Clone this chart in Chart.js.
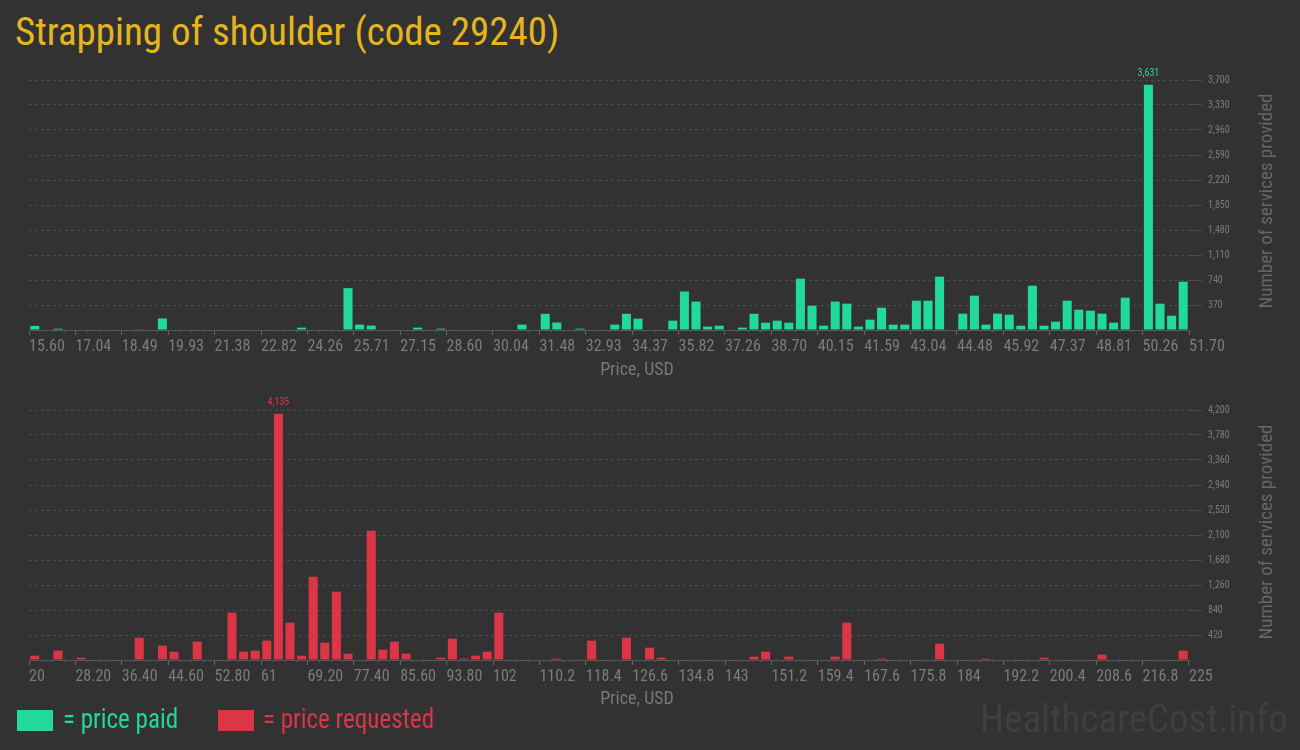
<!DOCTYPE html>
<html>
<head>
<meta charset="utf-8">
<script src="https://cdn.jsdelivr.net/npm/chart.js@4/dist/chart.umd.min.js"></script>
<style>
  html, body { margin: 0; padding: 0; }
  body {
    width: 1300px; height: 750px; overflow: hidden; position: relative;
    background: #323232;
    font-family: 'Roboto Condensed', 'Liberation Sans Narrow', 'DejaVu Sans Condensed', Roboto, sans-serif;
  }
  .txt { position: absolute; white-space: nowrap; line-height: 1; }
  #title { left: 15px; top: 13px; font-size: 39px; color: #e6b51e; }
  .ytitle { font-size: 19px; color: #676767; transform: translate(-50%, -50%) rotate(-90deg); }
  .xtitle { font-size: 18px; color: #787878; transform: translate(-50%, -50%); }
  .box { position: absolute; width: 36px; height: 21px; }
  .legend { font-size: 28px; top: 705px; transform: scaleX(0.895); transform-origin: left center; }
  #mark { right: 12px; top: 700px; font-size: 39px; color: #3f3f3f; }
  canvas { position: absolute; left: 0; }
</style>
</head>
<body>
<div id="title" class="txt">Strapping of shoulder (code 29240)</div>

<canvas id="paidChart" width="1300" height="330" style="top:55px"></canvas>
<canvas id="requestedChart" width="1300" height="330" style="top:385px"></canvas>

<div class="txt ytitle" style="left:1265px; top:201px">Number of services provided</div>
<div class="txt ytitle" style="left:1265px; top:532px">Number of services provided</div>
<div class="txt xtitle" style="left:637px; top:369px">Price, USD</div>
<div class="txt xtitle" style="left:637px; top:698px">Price, USD</div>

<div class="box" style="left:17px; top:710px; background:#21d99b"></div>
<div class="txt legend" style="left:63px; color:#21d99b">= price paid</div>
<div class="box" style="left:218px; top:710px; background:#dc3545"></div>
<div class="txt legend" style="left:263px; color:#dc3545">= price requested</div>
<div id="mark" class="txt">HealthcareCost.info</div>

<script>
// price bins: 100 bins per chart, tick labels every 4 bins
const paidTicks = ['15.60', '17.04', '18.49', '19.93', '21.38', '22.82', '24.26', '25.71', '27.15',
    '28.60', '30.04', '31.48', '32.93', '34.37', '35.82', '37.26', '38.70', '40.15', '41.59',
    '43.04', '44.48', '45.92', '47.37', '48.81', '50.26', '51.70'];
const requestedTicks = ['20', '28.20', '36.40', '44.60', '52.80', '61', '69.20', '77.40', '85.60',
    '93.80', '102', '110.2', '118.4', '126.6', '134.8', '143', '151.2', '159.4', '167.6',
    '175.8', '184', '192.2', '200.4', '208.6', '216.8', '225'];

// number of services provided in each bin
const paidCounts = [
    60, 0, 20, 0, 0, 0, 0, 0, 0, 10,
    0, 170, 0, 0, 0, 0, 0, 0, 0, 0,
    0, 0, 0, 35, 0, 0, 0, 620, 80, 65,
    0, 0, 0, 35, 0, 20, 0, 0, 0, 0,
    0, 0, 80, 0, 240, 110, 0, 20, 0, 0,
    80, 240, 168, 0, 0, 138, 570, 420, 50, 64,
    0, 35, 240, 108, 138, 108, 760, 360, 64, 420,
    390, 50, 153, 330, 79, 79, 434, 434, 790, 0,
    242, 508, 79, 242, 227, 64, 656, 64, 123, 434,
    301, 286, 242, 108, 479, 0, 3631, 390, 212, 715
];
const requestedCounts = [
    73, 0, 157, 0, 39, 0, 0, 0, 0, 375,
    0, 241, 140, 0, 308, 0, 0, 795, 140, 157,
    325, 4135, 627, 73, 1400, 291, 1148, 106, 0, 2173,
    174, 308, 106, 0, 0, 39, 358, 22, 73, 140,
    795, 10, 0, 0, 0, 22, 0, 10, 325, 0,
    0, 375, 0, 207, 39, 0, 0, 0, 0, 0,
    0, 0, 56, 140, 10, 56, 0, 0, 0, 56,
    627, 0, 0, 22, 0, 0, 0, 0, 274, 0,
    0, 0, 22, 0, 0, 0, 0, 39, 0, 0,
    0, 0, 90, 0, 0, 0, 0, 0, 0, 157
];

const yMaxPaid = 3700, yStepPaid = 370;
const yMaxRequested = 4200, yStepRequested = 420;

const narrow = "'Roboto Condensed', 'Liberation Sans Narrow', 'DejaVu Sans Condensed', Roboto, sans-serif";

// label over the tallest bar
const peakLabel = {
    id: 'peakLabel',
    afterDatasetsDraw(chart) {
        const ds = chart.data.datasets[0];
        const meta = chart.getDatasetMeta(0);
        let best = 0;
        ds.data.forEach((d, i) => { if (d.y > ds.data[best].y) best = i; });
        const bar = meta.data[best];
        const c = chart.ctx;
        c.save();
        c.font = '10px ' + narrow;
        c.fillStyle = ds.backgroundColor;
        c.textAlign = 'center';
        c.textBaseline = 'bottom';
        c.fillText(ds.data[best].y.toLocaleString('en-US'), bar.x, bar.y - 6);
        c.restore();
    }
};

// short minor ticks at every bin edge
const minorTicks = {
    id: 'minorTicks',
    afterDraw(chart) {
        const x = chart.scales.x;
        const c = chart.ctx;
        c.save();
        c.strokeStyle = '#5a5a5a';
        c.lineWidth = 1;
        x.ticks.forEach((t, i) => {
            if (i % 4 === 0) return;
            const px = Math.round(x.getPixelForValue(t.value)) + 0.5;
            c.beginPath();
            c.moveTo(px, x.top);
            c.lineTo(px, x.top + 2);
            c.stroke();
        });
        c.restore();
    }
};

function makeChart(id, tickLabels, counts, color, yMax, yStep) {
    const lo = parseFloat(tickLabels[0]);
    const hi = parseFloat(tickLabels[tickLabels.length - 1]);
    const nBins = counts.length;
    const w = (hi - lo) / nBins;
    const points = counts.map((v, i) => ({ x: lo + (i + 0.5) * w, y: v }));

    return new Chart(document.getElementById(id), {
        type: 'bar',
        data: {
            datasets: [{
                data: points,
                backgroundColor: color,
                borderWidth: 0,
                barPercentage: 0.78,
                categoryPercentage: 1
            }]
        },
        options: {
            responsive: false,
            animation: false,
            layout: { padding: { left: 29, right: 51, top: 25, bottom: 15 } },
            plugins: { legend: { display: false }, tooltip: { enabled: false } },
            scales: {
                x: {
                    type: 'linear',
                    min: lo,
                    max: hi,
                    offset: false,
                    afterBuildTicks(scale) {
                        const t = [];
                        for (let i = 0; i <= nBins; i++) t.push({ value: lo + i * w });
                        scale.ticks = t;
                    },
                    afterFit(scale) { scale.height = 40; },
                    grid: {
                        offset: false,
                        drawOnChartArea: false,
                        tickLength: 5,
                        tickColor: ctx => ctx.index % 4 === 0 ? '#666' : 'rgba(0,0,0,0)'
                    },
                    border: { display: true, color: '#575757', width: 1 },
                    ticks: {
                        autoSkip: false,
                        maxRotation: 0,
                        align: 'start',
                        padding: 2,
                        color: '#7c7c7c',
                        font: { family: narrow, size: 16 },
                        callback: (v, i) => i % 4 === 0 ? tickLabels[i / 4] : ''
                    }
                },
                y: {
                    position: 'right',
                    min: 0,
                    max: yMax,
                    afterFit(scale) { scale.width = 60; },
                    grid: {
                        color: ctx => ctx.tick.value === 0 ? 'rgba(0,0,0,0)' : '#4a4a4a',
                        borderDash: [3, 3],
                        tickLength: 13
                    },
                    border: { display: false, dash: [3, 3] },
                    ticks: {
                        stepSize: yStep,
                        padding: 6,
                        color: '#7c7c7c',
                        font: { family: narrow, size: 10 },
                        callback: v => v === 0 ? '' : v.toLocaleString('en-US')
                    }
                }
            }
        },
        plugins: [peakLabel, minorTicks]
    });
}

makeChart('paidChart', paidTicks, paidCounts, '#21d99b', yMaxPaid, yStepPaid);
makeChart('requestedChart', requestedTicks, requestedCounts, '#dc3545', yMaxRequested, yStepRequested);
</script>
</body>
</html>
